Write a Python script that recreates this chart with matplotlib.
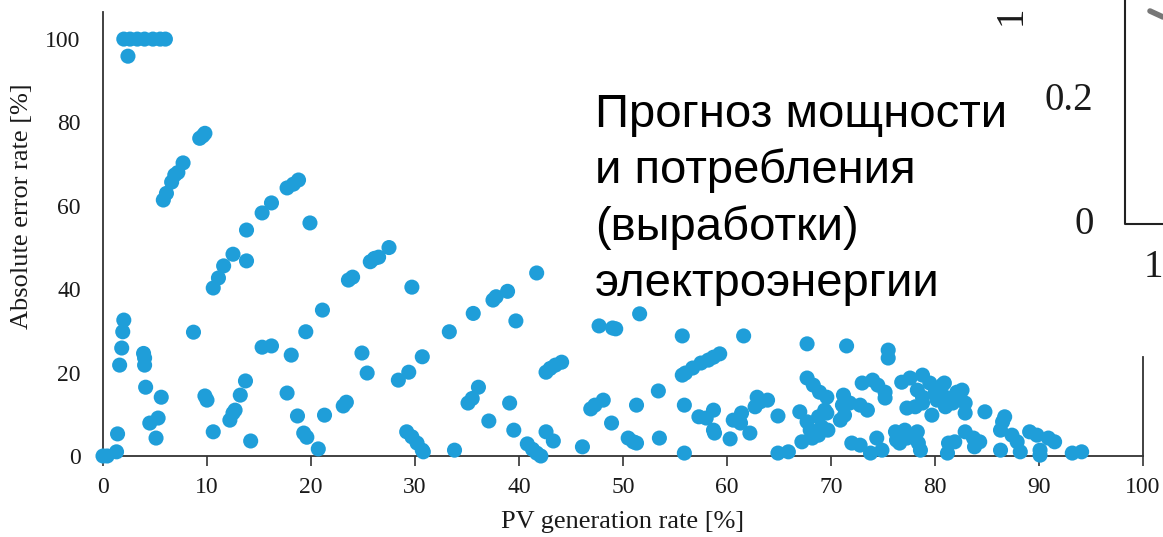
import matplotlib
matplotlib.use("Agg")
import matplotlib.pyplot as plt
from matplotlib.lines import Line2D

# --- DANE: PV generation rate [%] vs absolute error rate [%] ---
pv_low = [0.0, 0.4, 1.3, 1.4, 1.6, 1.8, 1.9, 2.0,
          2.0, 2.6, 3.3, 4.0, 4.8, 5.5, 6.0, 2.4,
          3.9, 4.0, 4.0, 4.1, 4.5, 5.3, 5.1, 5.6,
          5.8, 6.1, 6.6, 6.9, 7.2, 7.7, 9.3, 9.8, 9.6,
          8.7, 9.8, 10.0]
err_low = [0.0, 0.0, 1.0, 5.3, 21.8, 25.9, 29.8, 32.6,
           100, 100, 100, 100, 100, 100, 100, 95.9,
           24.6, 23.5, 21.8, 16.5, 7.9, 9.1, 4.3, 14.1,
           61.4, 63.0, 65.7, 67.4, 68.0, 70.3, 76.2, 77.4, 76.8,
           29.7, 14.4, 13.4]

pv_10_30 = [10.6, 10.6, 11.1, 11.6, 12.5, 13.8, 13.8, 15.3, 16.2, 17.7, 18.3, 18.8, 19.9,
            12.2, 12.5, 12.7, 13.2, 13.7, 14.2, 15.3, 16.2, 17.7, 18.1, 18.7, 19.3, 19.6, 19.5,
            20.7, 21.1, 21.3, 23.1, 23.4, 23.6, 24.0, 24.9, 25.4, 25.7, 26.1, 26.5, 27.5,
            28.4, 29.4, 29.7, 29.2, 29.7, 30.2, 30.7, 30.8]
err_10_30 = [5.8, 40.3, 42.7, 45.6, 48.4, 54.2, 46.8, 58.3, 60.7, 64.3, 65.2, 66.2, 55.9,
             8.6, 10.3, 11.0, 14.6, 18.0, 3.6, 26.1, 26.4, 15.1, 24.2, 9.6, 5.5, 4.5, 29.8,
             1.7, 35.0, 9.8, 12.0, 12.9, 42.2, 42.9, 24.7, 19.9, 46.6, 47.4, 47.7, 50.0,
             18.2, 20.1, 40.5, 5.8, 4.6, 3.1, 1.4, 1.0]

pv_30_60 = [30.7, 33.3, 33.8, 35.1, 35.5, 36.1, 35.6, 37.1, 37.5, 37.8, 38.9, 39.1, 39.5, 39.7,
            40.8, 41.3, 41.7, 42.1, 41.7, 42.6, 43.3, 42.6, 43.0, 43.5, 44.1, 46.1, 46.9, 47.3,
            48.1, 47.7, 49.0, 49.3, 48.9,
            50.5, 51.0, 51.3, 51.3, 51.6, 53.4, 53.5, 55.7, 55.7, 56.0, 55.9, 55.9, 56.7, 57.5,
            58.2, 58.7, 59.3, 57.3, 58.0, 58.7, 58.7, 58.8]
err_30_60 = [23.8, 29.8, 1.4, 12.7, 13.8, 16.5, 34.2, 8.4, 37.4, 38.2, 39.5, 12.7, 6.2, 32.4,
             2.9, 1.6, 0.7, 0.0, 43.9, 5.8, 3.6, 20.1, 21.0, 21.8, 22.5, 2.2, 11.3, 12.2,
             13.4, 31.2, 30.7, 30.5, 7.9,
             4.3, 3.4, 3.1, 12.2, 34.1, 15.6, 4.3, 28.8, 19.4, 19.9, 12.2, 0.7, 21.1, 22.3,
             23.0, 23.7, 24.5, 9.4, 9.1, 11.0, 6.2, 5.5]

pv_60_80 = [60.3, 60.6, 61.3, 61.4, 61.6, 62.2, 62.7, 62.9, 63.2, 63.9, 64.9, 64.9, 65.9,
            67.7, 67.7, 68.3, 68.9, 69.6, 67.0, 67.7, 68.8, 69.6, 68.0, 69.7, 67.2, 68.2,
            68.8, 69.1, 69.4,
            71.5, 75.5, 75.5, 71.2, 71.1, 71.8, 72.8, 73.5, 70.9, 71.3, 73.0, 74.0, 74.5,
            75.2, 75.2, 72.0, 72.8, 73.8, 74.4, 74.9, 76.2, 76.3, 77.1, 77.3, 78.3, 78.4,
            78.6, 76.8, 77.6, 78.8, 77.3, 78.1, 78.3, 78.8, 79.5, 79.7, 78.8, 76.6]
err_60_80 = [4.1, 8.6, 7.9, 10.3, 28.8, 5.5, 11.8, 14.1, 13.0, 13.4, 9.6, 0.7, 1.0,
             26.9, 18.7, 17.0, 15.3, 14.1, 10.6, 8.2, 9.4, 10.3, 6.2, 6.2, 3.4, 4.3,
             5.0, 7.0, 11.0,
             26.4, 25.4, 23.5, 14.6, 12.2, 12.7, 12.2, 11.0, 8.6, 9.8, 17.5, 18.2, 17.0,
             15.3, 13.9, 3.1, 2.6, 0.7, 4.3, 1.4, 5.8, 3.8, 6.2, 4.3, 5.8, 3.1,
             1.4, 17.7, 18.7, 19.4, 11.5, 11.8, 15.8, 14.1, 17.5, 9.8, 12.7, 3.1]

pv_high = [80.0, 80.7, 81.0, 81.0, 81.7, 82.1, 82.4, 82.9, 82.9, 84.8, 81.3, 81.2, 81.9,
           82.9, 83.7, 83.8, 84.3, 86.7, 86.5, 86.3, 86.3, 87.4, 87.9, 88.2, 89.1, 89.8,
           90.1, 90.1, 90.9, 91.5, 93.2, 94.1, 80.2, 80.9, 82.6]
err_high = [15.1, 17.0, 14.1, 11.8, 12.7, 15.3, 14.1, 12.7, 10.3, 10.6, 3.1, 0.7, 3.4,
            5.8, 4.3, 2.2, 3.4, 9.4, 8.2, 6.2, 1.4, 5.0, 3.4, 1.0, 5.8, 5.0,
            1.4, 0.2, 4.3, 3.4, 0.7, 1.0, 13.4, 17.5, 15.8]

x_ticks = [0, 10, 20, 30, 40, 50, 60, 70, 80, 90, 100]
y_ticks = [0, 20, 40, 60, 80, 100]

caption_lines = ["Прогноз мощности", "и потребления", "(выработки)", "электроэнергии"]

W, H = 1163, 537


def px(x, y):
    # piksele -> wspolrzedne figury
    return x / W, 1 - y / H


pv = pv_low + pv_10_30 + pv_30_60 + pv_60_80 + pv_high
err = err_low + err_10_30 + err_30_60 + err_60_80 + err_high

fig = plt.figure(figsize=(W / 100, H / 100), dpi=100)
ax = fig.add_axes([103 / W, 81 / H, 1040 / W, 444 / H])

ax.scatter(pv, err, s=118, color='#1f9ed9', edgecolors='none', clip_on=False, zorder=3)

ax.set_xlim(0, 100)
ax.set_ylim(0, 106.5)
ax.set_xticks(x_ticks)
ax.set_yticks(y_ticks)

serif = ['Liberation Serif', 'DejaVu Serif']
for lab in ax.get_xticklabels() + ax.get_yticklabels():
    lab.set_family(serif)
    lab.set_fontsize(17)
    lab.set_color('#1a1a1a')

ax.tick_params(axis='x', direction='out', length=7, width=1.2, pad=8, color='#333333')
ax.tick_params(axis='y', length=0, pad=16)

ax.spines['top'].set_visible(False)
for s in ['left', 'bottom', 'right']:
    ax.spines[s].set_linewidth(1.3)
    ax.spines[s].set_color('#333333')
ax.spines['right'].set_bounds(0, 23.7)

ax.set_xlabel("PV generation rate [%]", family=serif, fontsize=19, color='#1a1a1a')
ax.set_ylabel("Absolute error rate [%]", family=serif, fontsize=19, color='#1a1a1a')
ax.xaxis.set_label_coords(0.5, -0.124)
ax.yaxis.set_label_coords(-0.067, 0.563)

# Podpis w srodku wykresu
baselines = [127, 183, 240, 296]
for txt, yb in zip(caption_lines, baselines):
    fx, fy = px(595, yb)
    fig.text(fx, fy, txt, family=['Liberation Sans', 'DejaVu Sans'], fontsize=34,
             color='black', ha='left', va='baseline')

# Fragment drugiego wykresu po prawej stronie
fx, fy = px(1069, 101)
fig.text(fx, fy, "0.2", family=serif, fontsize=28, color='#1a1a1a', ha='center', va='center')
fx, fy = px(1084, 225)
fig.text(fx, fy, "0", family=serif, fontsize=28, color='#1a1a1a', ha='center', va='center')
fx, fy = px(1153, 268)
fig.text(fx, fy, "1", family=serif, fontsize=28, color='#1a1a1a', ha='center', va='center')
fx, fy = px(1011, 15)
fig.text(fx, fy, "1", family=serif, fontsize=28, color='#1a1a1a', ha='center', va='center',
         rotation=90)

x0, y0 = px(1125, 0)
x1, y1 = px(1125, 224)
x2, y2 = px(1163, 224)
fig.add_artist(Line2D([x0, x1, x2], [y0, y1, y2], transform=fig.transFigure,
                      color='#222222', linewidth=1.5))
gx0, gy0 = px(1150, 11)
gx1, gy1 = px(1163, 17)
fig.add_artist(Line2D([gx0, gx1], [gy0, gy1], transform=fig.transFigure,
                      color='#777777', linewidth=4, solid_capstyle='round'))

fig.savefig("out.png", dpi=100)
